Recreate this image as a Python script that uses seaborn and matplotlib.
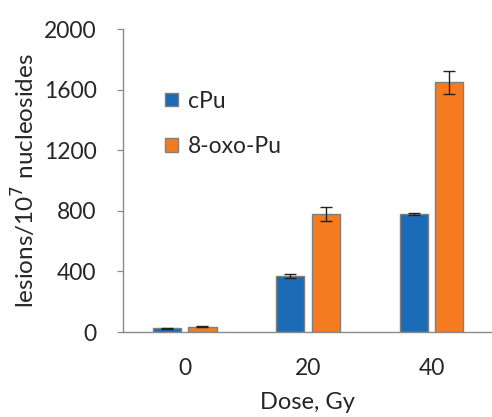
import matplotlib
matplotlib.use("Agg")
import matplotlib.pyplot as plt
import seaborn as sns
import pandas as pd

doses = ["0", "20", "40"]
series = ["cPu", "8-oxo-Pu"]
cpu_vals = [24, 370, 781]
oxo_vals = [35, 779, 1648]
cpu_err = [4, 12, 5]
oxo_err = [5, 46, 74]
yticks = [0, 400, 800, 1200, 1600, 2000]

colors = ["#1C6BB6", "#F47B20"]

sns.set_theme(style="white")
plt.rcParams['font.family'] = ['Lato', 'DejaVu Sans']

df = pd.DataFrame({
    "dose": doses * 2,
    "series": [series[0]] * 3 + [series[1]] * 3,
    "value": cpu_vals + oxo_vals,
    "err": cpu_err + oxo_err,
})

fig = plt.figure(figsize=(4.92, 4.17), dpi=100)
ax = fig.add_axes([0.25, 0.2038, 0.75, 0.7262])

sns.barplot(data=df, x="dose", y="value", hue="series", order=doses,
            hue_order=series, palette=colors, width=0.576, gap=0.21,
            errorbar=None, edgecolor="#7f7f7f", linewidth=1.0, ax=ax,
            saturation=1)

# error bars positioned on the drawn bars
bars = [p for p in ax.patches if p.get_height() > 0][:6]
errs = cpu_err + oxo_err
for p, e in zip(bars, errs):
    xc = p.get_x() + p.get_width() / 2
    ax.errorbar(xc, p.get_height(), yerr=e, fmt="none", ecolor="#222222",
                elinewidth=1.0, capsize=4, capthick=1.0)

fs = 16.5
ax.set_ylim(0, 2000)
ax.set_xlim(-0.5, 2.49)
ax.set_yticks(yticks)
ax.set_yticklabels([str(v) for v in yticks], fontsize=fs)
ax.tick_params(axis="x", length=0, labelsize=fs, pad=19)
ax.tick_params(axis="y", length=4, width=0.9, color="#8a8a8a", direction="out",
               left=True, pad=15)
for s in ["top", "right"]:
    ax.spines[s].set_visible(False)
for s in ["left", "bottom"]:
    ax.spines[s].set_color("#8a8a8a")
    ax.spines[s].set_linewidth(1.0)

ax.set_xlabel("Dose, Gy", fontsize=17, labelpad=9)
ax.set_ylabel("lesions/10$^7$ nucleosides", fontsize=17.5, labelpad=4)

leg = ax.legend(loc="upper left", bbox_to_anchor=(0.058, 0.865), frameon=False,
                fontsize=16.5, labelspacing=1.05, handlelength=0.55,
                handleheight=0.55, handletextpad=0.45)

fig.savefig("out.png", dpi=100)
